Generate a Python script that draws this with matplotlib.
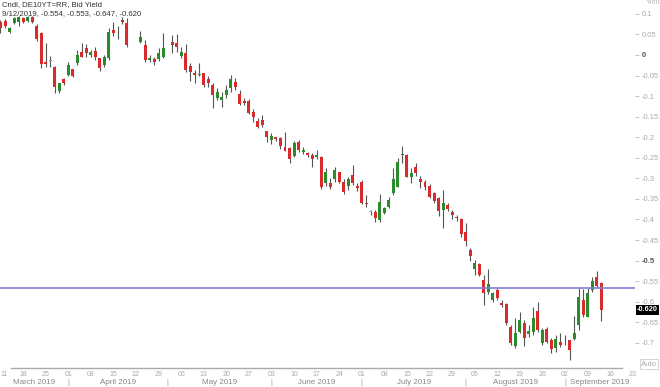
import numpy as np
import pandas as pd
import matplotlib
matplotlib.use("Agg")
import matplotlib.pyplot as plt
import matplotlib.transforms as mtransforms

plt.rcParams['axes.unicode_minus'] = False
plt.rcParams['font.family'] = ['Liberation Sans', 'DejaVu Sans']

# business days 11 Mar 2019 .. 12 Sep 2019; None = no trading (holidays)
dates = pd.bdate_range('2019-03-11', '2019-09-12')

opens = [
    .081, .083, .056, .077, .079, .089, .083, .093, .071, .053,
    -.016, -.014, -.028, -.087, -.059, -.049, -.035, -.020, .008, .016,
    .000, .010, -.008, -.024, -.008, .061, .062, .085, .0785, None,
    None, .032, .024, -.012, -.010, -.010, -.004, None, .032, .030,
    -.002, .006, -.027, -.043, -.048, -.044, -.058, -.073, -.105, -.109,
    -.097, -.081, -.065, -.095, -.112, -.111, -.138, -.160, -.158, -.186,
    -.207, -.200, -.2025, -.224, -.227, -.2456, -.2108, -.236, -.2376, -.243,
    -.2488, -.247, -.312, -.3105, -.3023, -.2853, -.308, -.3185, -.2918, -.3185,
    -.308, -.359, -.3818, -.381, -.401, -.3835, -.3689, -.3363, -.3202, -.2432,
    -.2432, -.2974, -.2716, -.3023, -.308, -.3185, -.335, -.3485, -.377, -.3647,
    -.381, -.393, -.3996, -.4297, -.474, -.521, -.508, -.547, -.5756, -.5957,
    -.5714, -.6023, -.6055, -.6606, -.7076, -.6727, -.651, -.6784, -.6727, -.6216,
    -.701, -.667, -.693, -.7132, -.697, -.6986, -.693, -.6913, -.6565, -.5957,
    -.636, -.5714, -.5405, -.554,
]
highs = [
    .085, .087, .068, .093, .094, .092, .096, .095, .075, .055,
    .030, -.002, -.027, -.067, -.057, -.016, -.033, .012, .028, .027,
    .012, .020, -.007, .000, .065, .081, .0705, .092, .089, None,
    None, .059, .036, .000, -.004, .016, .053, None, .049, .051,
    .020, .027, -.020, -.036, -.020, -.043, -.051, -.069, -.081, -.089,
    -.073, -.049, -.057, -.085, -.105, -.108, -.131, -.153, -.146, -.184,
    -.190, -.199, -.200, -.187, -.223, -.2084, -.2067, -.2244, -.235, -.239,
    -.231, -.2456, -.2755, -.2998, -.2716, -.2837, -.302, -.296, -.2675, -.312,
    -.304, -.3404, -.377, -.377, -.338, -.369, -.3445, -.2755, -.2512, -.2213,
    -.2407, -.2755, -.2634, -.294, -.304, -.3137, -.332, -.346, -.328, -.359,
    -.377, -.389, -.397, -.409, -.470, -.4985, -.5065, -.535, -.521, -.5756,
    -.567, -.5957, -.6038, -.6565, -.640, -.624, -.644, -.6565, -.612, -.600,
    -.6646, -.6606, -.689, -.681, -.677, -.681, -.693, -.6346, -.567, -.5697,
    -.567, -.539, -.5245, -.553,
]
lows = [
    .054, .066, .053, .075, .070, .078, .081, .077, .035, -.032,
    -.028, -.029, -.092, -.092, -.072, -.051, -.053, -.024, -.006, -.006,
    -.006, -.012, -.038, -.028, -.012, .046, .038, .075, .019, None,
    None, .028, -.016, -.016, -.024, -.014, -.008, None, .004, .008,
    -.008, -.041, -.0625, -.067, -.051, -.077, -.077, -.130, -.109, -.127,
    -.105, -.089, -.085, -.122, -.122, -.143, -.162, -.178, -.176, -.211,
    -.216, -.208, -.229, -.233, -.262, -.249, -.235, -.2407, -.2487, -.2716,
    -.2537, -.3266, -.3185, -.3266, -.308, -.312, -.338, -.3283, -.316, -.330,
    -.362, -.3689, -.389, -.405, -.405, -.3866, -.3728, -.3404, -.3217, -.2634,
    -.2974, -.312, -.2942, -.324, -.328, -.3485, -.361, -.3915, -.4214, -.3786,
    -.3996, -.403, -.4418, -.4644, -.500, -.535, -.5374, -.608, -.581, -.600,
    -.5957, -.6135, -.6565, -.7052, -.713, -.6767, -.7076, -.6864, -.681, -.6727,
    -.705, -.701, -.7254, -.7214, -.7108, -.705, -.7416, -.693, -.6687, -.638,
    -.638, -.5756, -.567, -.647,
]
closes = [
    .065, .071, .066, .089, .092, .081, .093, .081, .038, -.022,
    -.022, -.014, -.079, -.069, -.069, -.024, -.051, .000, -.004, .004,
    .007, -.004, -.032, -.004, .057, .054, .063, .081, .024, None,
    None, .0445, -.012, -.007, -.016, .004, .016, None, .024, .020,
    .008, -.036, -.041, -.049, -.046, -.073, -.069, -.097, -.089, -.101,
    -.085, -.059, -.0785, -.119, -.117, -.140, -.152, -.174, -.170, -.199,
    -.196, -.205, -.221, -.233, -.254, -.2147, -.231, -.231, -.2439, -.2537,
    -.243, -.320, -.2838, -.3217, -.2796, -.308, -.3324, -.3023, -.312, -.324,
    -.359, -.3623, -.381, -.397, -.3567, -.3728, -.3526, -.3023, -.2594, -.241,
    -.296, -.2877, -.2877, -.308, -.320, -.346, -.354, -.3786, -.359, -.375,
    -.389, -.397, -.435, -.4515, -.489, -.505, -.535, -.578, -.557, -.5795,
    -.5917, -.608, -.6524, -.701, -.6767, -.6443, -.689, -.6703, -.640, -.6687,
    -.6687, -.697, -.7157, -.6913, -.705, -.699, -.717, -.675, -.589, -.632,
    -.5795, -.549, -.5617, -.620,
]

ref_level = -0.566
last_close = -0.620
ytick_vals = [0.1, 0.05, 0, -0.05, -0.1, -0.15, -0.2, -0.25, -0.3, -0.35,
              -0.4, -0.45, -0.5, -0.55, -0.6, -0.65, -0.7]

RED = '#d92b2b'
GREEN = '#2b8a2b'

fig = plt.figure(figsize=(6.6, 3.87), dpi=100)
ax = fig.add_axes([0, 1 - 368 / 387, 635 / 660, 368 / 387])

for k in range(len(dates)):
    o, h, l, c = opens[k], highs[k], lows[k], closes[k]
    if o is None:
        continue
    if abs(c - o) < 0.0015:
        col = '#999999'
    elif c > o:
        col = GREEN
    else:
        col = RED
    ax.vlines(k, l, h, color='#555555', lw=0.8, zorder=2)
    ax.bar(k, max(abs(c - o), 0.002), bottom=min(o, c), width=0.66,
           color=col, edgecolor='none', zorder=3)

ax.axhline(ref_level, color='#8080d8', lw=1.4, alpha=0.85, zorder=4)

x0, x1 = -0.11, 140.5
y0, y1 = -0.7611, 0.1337
ax.set_xlim(x0, x1)
ax.set_ylim(y0, y1)
for s in ax.spines.values():
    s.set_visible(False)
ax.set_xticks([])

# y axis on the right
ax.yaxis.tick_right()
ax.set_yticks(ytick_vals, labels=['%g' % v for v in ytick_vals])
ax.tick_params(axis='y', length=3, width=0.6, color='#bbbbbb', pad=2,
               labelsize=5.5, labelcolor='#aaaaaa')
for lbl in ax.get_yticklabels():
    if lbl.get_text() in ('0', '-0.5'):
        lbl.set_color('#555555')
        lbl.set_fontweight('bold')

# bottom axis line
ax.plot([11 / 635, 622 / 635], [0, 0], transform=ax.transAxes,
        color='#aaaaaa', lw=1.0, clip_on=False)

# date labels (weekly) and months
all_days = pd.bdate_range('2019-03-01', '2019-09-30')
pos = {d: i - all_days.get_loc(dates[0]) for i, d in enumerate(all_days)}
trans = mtransforms.blended_transform_factory(ax.transData, fig.transFigure)
for d in all_days:
    k = pos[d]
    if d.weekday() == 0 and x0 - 0.5 <= k <= x1 + 1:
        ha = 'left' if k < 0.5 else 'center'
        ax.text(k, 1 - 375 / 387, d.strftime('%d'), transform=trans, ha=ha,
                va='center', fontsize=5, color='#aaaaaa', clip_on=False)

months = pd.period_range('2019-03', '2019-09', freq='M')
for m in months:
    in_m = [pos[d] for d in all_days if d.to_period('M') == m]
    a, b = max(in_m[0], x0), min(in_m[-1] + 1, x1)
    if in_m[0] > x0:
        ax.text(in_m[0], 1 - 382 / 387, '|', transform=trans, ha='center',
                va='center', fontsize=5.5, color='#999999')
    ax.text((a + b) / 2, 1 - 382 / 387, m.strftime('%B %Y'), transform=trans,
            ha='center', va='center', fontsize=5.8, color='#888888')

# header
fig.text(2 / 660, 1 - 4.5 / 387, 'Cndl, DE10YT=RR, Bid Yield', fontsize=5.6,
         color='#333333', va='center', ha='left')
fig.text(2 / 660, 1 - 13.5 / 387, '9/12/2019, -0.554, -0.553, -0.647, -0.620',
         fontsize=5.6, color='#333333', va='center', ha='left')

# right side labels
ytrans = mtransforms.blended_transform_factory(fig.transFigure, ax.transData)
ax.text(637 / 660, last_close, '%.3f' % last_close, transform=ytrans,
        fontsize=5.3, color='white', fontweight='bold', va='center', ha='left',
        bbox=dict(boxstyle='square,pad=0.2', fc='black', ec='none'), zorder=5)
fig.text(646 / 660, 1 - 2.5 / 387, 'Yield', fontsize=5.5, color='#bbbbbb',
         va='center', ha='left')
fig.text(641 / 660, 1 - 364 / 387, 'Auto', fontsize=5.5, color='#aaaaaa',
         va='center', ha='left',
         bbox=dict(boxstyle='square,pad=0.15', fc='white', ec='#cccccc', lw=0.6))

fig.savefig('out.png', dpi=100)
